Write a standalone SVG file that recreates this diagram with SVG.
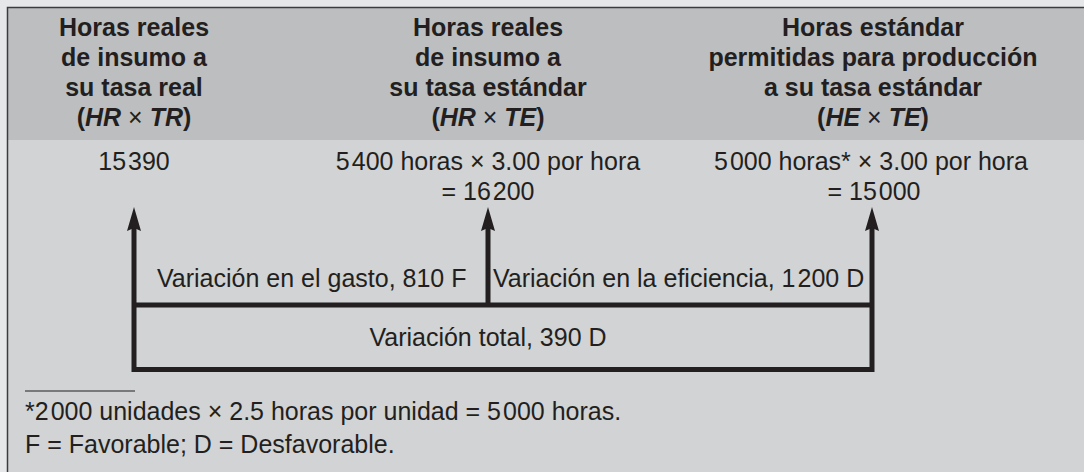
<svg xmlns="http://www.w3.org/2000/svg" width="1084" height="472" viewBox="0 0 1084 472">
  <defs>
    <style>
      text { font-family: "Liberation Sans", Arial, Helvetica, sans-serif; fill: #231f20; }
      .h { font-size: 25px; font-weight: bold; text-anchor: middle; }
      .i { font-style: italic; }
      .n { font-weight: normal; }
      .b { font-size: 25px; text-anchor: middle; }
      .l { font-size: 25px; }
      .f { font-size: 25px; }
      .wire { fill: none; stroke: #231f20; stroke-width: 5; stroke-linejoin: miter; stroke-linecap: butt; }
    </style>
    <marker id="ah" viewBox="0 0 24 14" refX="11" refY="7" markerWidth="24" markerHeight="14" markerUnits="userSpaceOnUse" orient="auto-start-reverse">
      <path d="M0,0 L24,7 L0,14 L3,7 z" fill="#231f20"/>
    </marker>
  </defs>

  <rect x="0" y="0" width="1084" height="472" fill="#e6e7e8"/>
  <rect x="7" y="7" width="1077" height="133" fill="#bcbec0"/>
  <rect x="7" y="140" width="1077" height="332" fill="#d1d3d4"/>
  <path d="M7.5,472 V7.5 H1084" fill="none" stroke="#3c3c3e" stroke-width="1.5"/>

  <g id="col1">
    <text class="h" x="134" y="36">Horas reales</text>
    <text class="h" x="134" y="66">de insumo a</text>
    <text class="h" x="134" y="96">su tasa real</text>
    <text class="h" x="134" y="126">(<tspan class="i">HR</tspan><tspan class="n"> × </tspan><tspan class="i">TR</tspan>)</text>
    <text class="b" x="134" y="170">15<tspan dx="2">390</tspan></text>
  </g>

  <g id="col2">
    <text class="h" x="488" y="36">Horas reales</text>
    <text class="h" x="488" y="66">de insumo a</text>
    <text class="h" x="488" y="96">su tasa estándar</text>
    <text class="h" x="488" y="126">(<tspan class="i">HR</tspan><tspan class="n"> × </tspan><tspan class="i">TE</tspan>)</text>
    <text class="b" x="488" y="170">5<tspan dx="2">400 horas × 3.00 por hora</tspan></text>
    <text class="b" x="488" y="200">= 16<tspan dx="2">200</tspan></text>
  </g>

  <g id="col3">
    <text class="h" x="873" y="36">Horas estándar</text>
    <text class="h" x="873" y="66">permitidas para producción</text>
    <text class="h" x="873" y="96">a su tasa estándar</text>
    <text class="h" x="873" y="126">(<tspan class="i">HE</tspan><tspan class="n"> × </tspan><tspan class="i">TE</tspan>)</text>
    <text class="b" x="871" y="170">5<tspan dx="2">000 horas* × 3.00 por hora</tspan></text>
    <text class="b" x="874" y="200">= 15<tspan dx="2">000</tspan></text>
  </g>

  <g id="connectors">
    <path class="wire" d="M134,220 V369.5 H872 V220" marker-start="url(#ah)" marker-end="url(#ah)"/>
    <path class="wire" d="M488,305 V220" marker-end="url(#ah)"/>
    <path class="wire" d="M134,305 H872"/>
  </g>

  <g id="labels">
    <text class="l" x="157" y="287">Variación en el gasto, 810 F</text>
    <text class="l" x="493" y="287">Variación en la eficiencia, 1<tspan dx="2">200 D</tspan></text>
    <text class="b" x="488" y="346">Variación total, 390 D</text>
  </g>

  <g id="footnote">
    <line x1="25" y1="391" x2="135" y2="391" stroke="#231f20" stroke-width="1"/>
    <text class="f" x="25" y="420">*2<tspan dx="2">000 unidades × 2.5 horas por unidad = 5</tspan><tspan dx="2">000 horas.</tspan></text>
    <text class="f" x="25" y="453">F = Favorable; D = Desfavorable.</text>
  </g>
</svg>
